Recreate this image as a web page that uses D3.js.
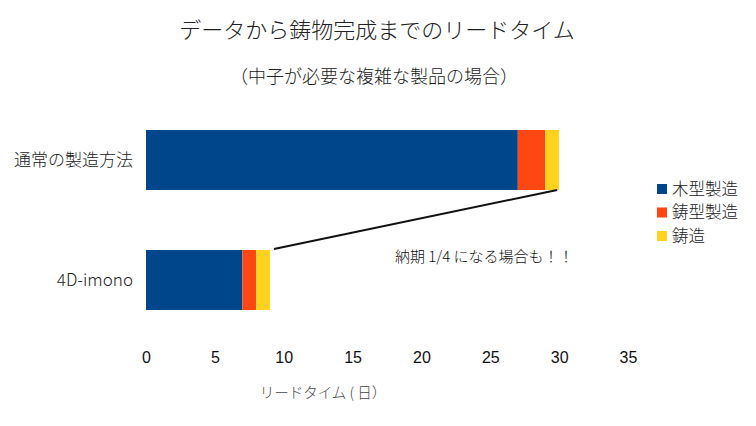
<!DOCTYPE html>
<html>
<head>
<meta charset="utf-8">
<script src="https://cdn.jsdelivr.net/npm/d3@7"></script>
<style>
  body { margin: 0; background: #fff; }
  text { font-family: "Noto Sans CJK JP", "Noto Sans", sans-serif; }
</style>
</head>
<body>
<div id="chart"></div>
<script>
const categories = ["通常の製造方法", "4D-imono"];
const seriesNames = ["木型製造", "鋳型製造", "鋳造"];
const woodPattern = [27, 7];
const moldMaking = [2, 1];
const casting = [1, 1];
const tickValues = [0, 5, 10, 15, 20, 25, 30, 35];
const colors = ["#00468a", "#ff4613", "#ffd21e"];

const width = 756, height = 426;

const svg = d3.select("#chart")
  .append("svg")
  .attr("width", width)
  .attr("height", height);

const rows = categories.map((c, i) => ({
  cat: c,
  "木型製造": woodPattern[i],
  "鋳型製造": moldMaking[i],
  "鋳造": casting[i]
}));

const stacked = d3.stack().keys(seriesNames)(rows);

const xScale = d3.scaleLinear().domain([0, 35]).range([146, 628]);
const yScale = d3.scaleBand().domain(categories).range([100, 340])
  .paddingInner(0.5).paddingOuter(0.25);
const colScale = d3.scaleOrdinal().domain(seriesNames).range(colors);

// title
svg.append("text")
  .attr("x", 377).attr("y", 38)
  .attr("text-anchor", "middle")
  .style("font-size", "22px")
  .style("font-weight", "300")
  .style("fill", "#222")
  .text("データから鋳物完成までのリードタイム");

svg.append("text")
  .attr("x", 374).attr("y", 83)
  .attr("text-anchor", "middle")
  .style("font-size", "18px")
  .style("font-weight", "300")
  .style("fill", "#222")
  .text("（中子が必要な複雑な製品の場合）");

// bars
svg.selectAll("g.series")
  .data(stacked)
  .join("g")
  .attr("class", "series")
  .attr("fill", d => colScale(d.key))
  .selectAll("rect")
  .data(d => d)
  .join("rect")
  .attr("x", d => xScale(d[0]))
  .attr("y", d => yScale(d.data.cat))
  .attr("width", d => xScale(d[1]) - xScale(d[0]))
  .attr("height", yScale.bandwidth());

// category labels
svg.selectAll("text.cat")
  .data(categories)
  .join("text")
  .attr("class", "cat")
  .attr("x", 133)
  .attr("y", d => yScale(d) + yScale.bandwidth() / 2)
  .attr("dy", "0.35em")
  .attr("text-anchor", "end")
  .style("font-size", "17px")
  .style("font-weight", "300")
  .style("fill", "#222")
  .text(d => d);

// x axis
const xAxis = d3.axisBottom(xScale).tickValues(tickValues).tickSize(0).tickPadding(0);
const axisG = svg.append("g")
  .attr("transform", "translate(0,352)")
  .call(xAxis);
axisG.select(".domain").remove();
axisG.selectAll("text")
  .style("font-family", "'Liberation Sans', Arial, sans-serif")
  .style("font-size", "16px")
  .style("fill", "#111");

svg.append("text")
  .attr("x", 323).attr("y", 398)
  .attr("text-anchor", "middle")
  .style("font-size", "14.5px")
  .style("font-weight", "300")
  .style("fill", "#444")
  .text("リードタイム ( 日）");

// annotation line
const total = rows.map(r => seriesNames.reduce((s, k) => s + r[k], 0));
svg.append("line")
  .attr("x1", xScale(total[0]) - 2)
  .attr("y1", yScale(categories[0]) + yScale.bandwidth())
  .attr("x2", xScale(total[1]) + 4)
  .attr("y2", yScale(categories[1]) - 1)
  .attr("stroke", "#111")
  .attr("stroke-width", 2);

svg.append("text")
  .attr("x", 395).attr("y", 262)
  .style("font-size", "15px")
  .style("font-weight", "300")
  .style("fill", "#111")
  .text("納期 1/4 になる場合も！！");

// legend
const legend = svg.selectAll("g.legend")
  .data(seriesNames)
  .join("g")
  .attr("class", "legend")
  .attr("transform", (d, i) => `translate(657,${189 + i * 23.5})`);

legend.append("rect")
  .attr("x", 0).attr("y", -5)
  .attr("width", 10).attr("height", 10)
  .attr("fill", d => colScale(d));

legend.append("text")
  .attr("x", 15).attr("y", 0)
  .attr("dy", "0.35em")
  .style("font-size", "16.5px")
  .style("font-weight", "300")
  .style("fill", "#222")
  .text(d => d);
</script>
</body>
</html>
